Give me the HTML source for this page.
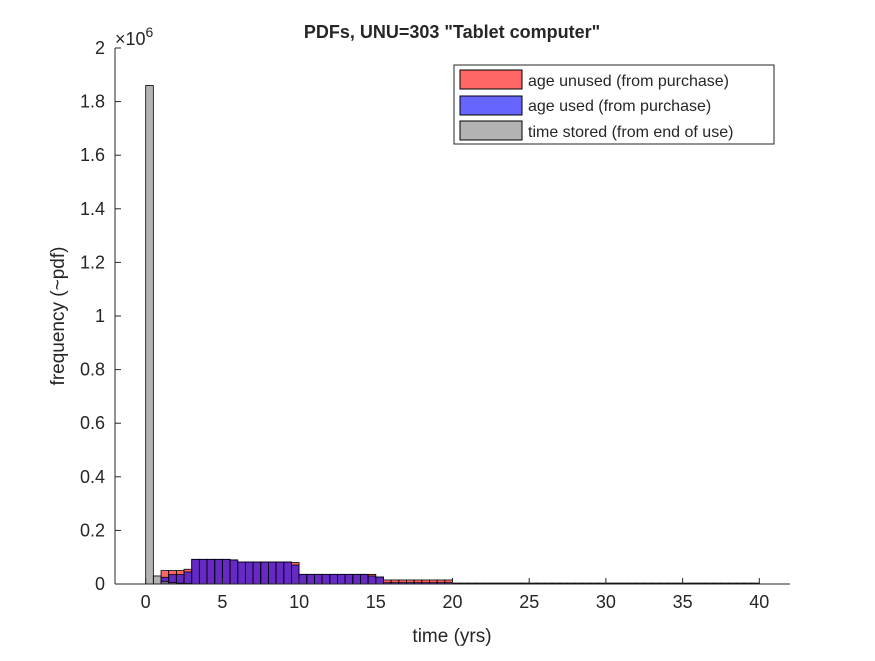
<!DOCTYPE html>
<html><head><meta charset="utf-8"><style>
body{margin:0;background:#fff;}
svg text{font-family:"Liberation Sans",Arial,sans-serif;fill:#262626;}
</style></head><body>
<svg id="chart" width="875" height="656" viewBox="0 0 875 656" xmlns="http://www.w3.org/2000/svg">
<rect width="875" height="656" fill="#fff"/>
<g id="bars"></g>
<rect x="115" y="48" width="675" height="536" fill="none" stroke="none"/>
<line x1="115" y1="584" x2="790" y2="584" stroke="#262626" stroke-width="1"/>
<line x1="115" y1="48" x2="115" y2="584" stroke="#262626" stroke-width="1"/>
<g id="ticks"></g>
<text x="452" y="38" text-anchor="middle" font-size="18" font-weight="bold" fill="#000">PDFs, UNU=303 "Tablet computer"</text>
<text x="452" y="642" text-anchor="middle" font-size="19">time (yrs)</text>
<text transform="translate(64,316) rotate(-90)" text-anchor="middle" font-size="19">frequency (~pdf)</text>
<text x="115" y="45" font-size="18">×10<tspan dy="-8" font-size="14">6</tspan></text>
<g>
<rect x="454" y="65" width="320" height="79" fill="#fff" stroke="#262626" stroke-width="1"/>
<rect x="460" y="70" width="62" height="19" fill="#ff6666" stroke="#000"/>
<text x="528" y="86" font-size="16" fill="#000">age unused (from purchase)</text>
<rect x="460" y="96" width="62" height="19" fill="#6666ff" stroke="#000"/>
<text x="528" y="111" font-size="16" fill="#000">age used (from purchase)</text>
<rect x="460" y="121" width="62" height="19" fill="#b3b3b3" stroke="#000"/>
<text x="528" y="137" font-size="16" fill="#000">time stored (from end of use)</text>
</g>
</svg>
<script>
const binWidth = 0.5;
const binStarts = [];
for (let i = 0; i < 80; i++) binStarts.push(i * 0.5);
const unusedValues = [0,0,50000,50000,50000,55000,92000,92000,92000,92000,92000,90000,82000,82000,82000,82000,82000,82000,82000,80000,36000,36000,36000,36000,36000,36000,36000,36000,36000,36000,26000,15000,15000,15000,15000,15000,15000,15000,15000,15000,
3000,3000,3000,3000,3000,3000,3000,3000,3000,3000,3000,3000,3000,3000,3000,3000,3000,3000,3000,3000,3000,3000,3000,3000,3000,3000,3000,3000,3000,3000,3000,3000,3000,3000,3000,3000,3000,3000,3000,3000];
const usedValues = [0,0,25000,35000,35000,45000,92000,92000,92000,92000,92000,90000,82000,82000,82000,82000,82000,82000,82000,71000,36000,36000,36000,36000,36000,36000,36000,36000,36000,30000,26000,5000,5000,5000,5000,5000,5000,5000,5000,5000,
3000,3000,3000,3000,3000,3000,3000,3000,3000,3000,3000,3000,3000,3000,3000,3000,3000,3000,3000,3000,3000,3000,3000,3000,3000,3000,3000,3000,3000,3000,3000,3000,3000,3000,3000,3000,3000,3000,3000,3000];
const storedValues = [1860000,30000,10000,5000,3000,2000];
const xTicks = [0,5,10,15,20,25,30,35,40];
const yTicks = [0,0.2,0.4,0.6,0.8,1,1.2,1.4,1.6,1.8,2];
const yTickLabels = ["0","0.2","0.4","0.6","0.8","1","1.2","1.4","1.6","1.8","2"];

const X0 = 115, X1 = 790, Y0 = 584, Y1 = 48, XMIN = -2, XMAX = 42, YMAX = 2e6;
const sx = v => X0 + (v - XMIN) / (XMAX - XMIN) * (X1 - X0);
const sy = v => Y0 - v / YMAX * (Y0 - Y1);
const NS = "http://www.w3.org/2000/svg";
const bars = document.getElementById('bars');
function drawSeries(vals, fill, name) {
  vals.forEach((v, i) => {
    if (v <= 0) return;
    const x = binStarts[i];
    const r = document.createElementNS(NS, 'rect');
    r.setAttribute('x', sx(x));
    r.setAttribute('y', sy(v));
    r.setAttribute('width', sx(x + binWidth) - sx(x));
    r.setAttribute('height', sy(0) - sy(v));
    r.setAttribute('fill', fill);
    r.setAttribute('fill-opacity', '0.6');
    r.setAttribute('stroke', '#000');
    r.setAttribute('stroke-width', '0.8');
    
    
    bars.appendChild(r);
  });
}
drawSeries(unusedValues, '#ff0000', 'bar-age-unused');
drawSeries(usedValues, '#0000ff', 'bar-age-used');
drawSeries(storedValues, '#808080', 'bar-time-stored');

const ticks = document.getElementById('ticks');
xTicks.forEach(t => {
  const l = document.createElementNS(NS, 'line');
  l.setAttribute('x1', sx(t)); l.setAttribute('x2', sx(t));
  l.setAttribute('y1', Y0); l.setAttribute('y2', Y0 - 6);
  l.setAttribute('stroke', '#262626');
  
  
  ticks.appendChild(l);
  const tx = document.createElementNS(NS, 'text');
  tx.setAttribute('x', sx(t)); tx.setAttribute('y', Y0 + 24);
  tx.setAttribute('text-anchor', 'middle'); tx.setAttribute('font-size', '18');
  tx.textContent = String(t);
  
  
  ticks.appendChild(tx);
});
yTicks.forEach((t, i) => {
  const v = t * 1e6;
  const l = document.createElementNS(NS, 'line');
  l.setAttribute('x1', X0); l.setAttribute('x2', X0 + 6);
  l.setAttribute('y1', sy(v)); l.setAttribute('y2', sy(v));
  l.setAttribute('stroke', '#262626');
  
  
  ticks.appendChild(l);
  const tx = document.createElementNS(NS, 'text');
  tx.setAttribute('x', X0 - 10); tx.setAttribute('y', sy(v) + 6);
  tx.setAttribute('text-anchor', 'end'); tx.setAttribute('font-size', '18');
  tx.textContent = yTickLabels[i];
  
  
  ticks.appendChild(tx);
});
</script>
</body></html>
